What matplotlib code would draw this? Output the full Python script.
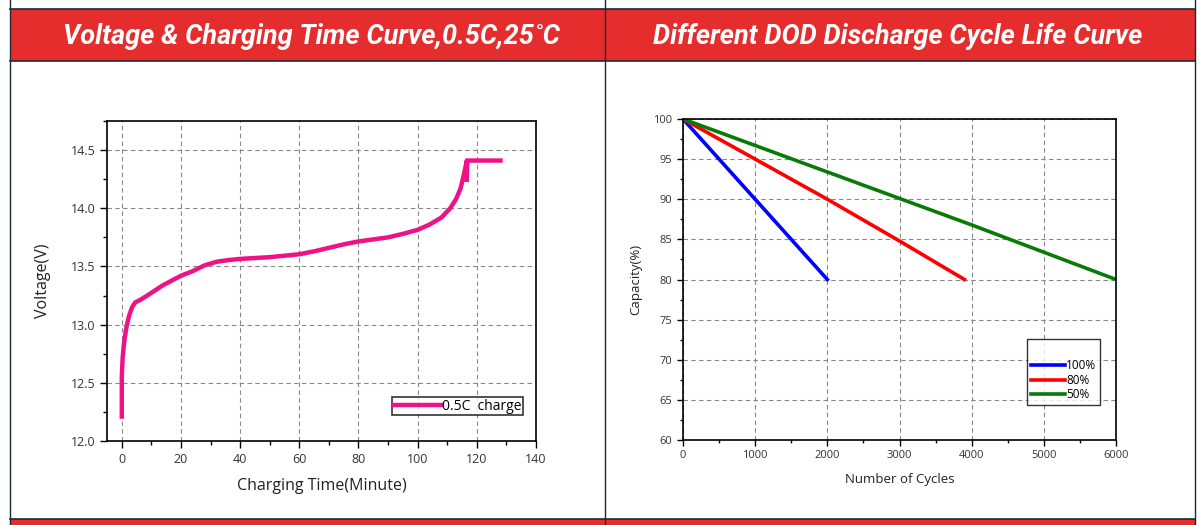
import matplotlib
matplotlib.use("Agg")
import matplotlib.pyplot as plt
from matplotlib.patches import Rectangle
from matplotlib.lines import Line2D
from matplotlib.ticker import MultipleLocator

# charging curve (minutes, volts)
charge_min = [0, 0, 0.3, 0.8, 1.5, 2.5, 3.5, 4.5, 6, 8, 11, 14, 17, 20, 24, 28, 32, 36,
              40, 50, 60, 65, 70, 75, 80, 90, 95, 100, 104, 108, 111, 113, 114.5,
              115.7, 116.3, 116.6, 116.6, 116.8, 122, 128]
charge_v = [12.21, 12.55, 12.72, 12.85, 12.97, 13.08, 13.15, 13.19, 13.21, 13.24, 13.29,
            13.34, 13.38, 13.42, 13.46, 13.51, 13.54, 13.555, 13.565, 13.58, 13.605,
            13.63, 13.66, 13.69, 13.715, 13.75, 13.78, 13.815, 13.86, 13.92, 14.0, 14.08,
            14.17, 14.30, 14.37, 14.41, 14.23, 14.41, 14.41, 14.41]

# cycle life per DOD
dod_labels = ["100%", "80%", "50%"]
cycles_100 = [0, 1000, 2000]
cap_100 = [100, 90, 80]
cycles_80 = [0, 1000, 2000, 3000, 3900]
cap_80 = [100, 95, 90, 84.8, 80]
cycles_50 = [0, 1000, 2000, 3000, 4000, 5000, 6000]
cap_50 = [100, 96.7, 93.4, 90.1, 86.8, 83.4, 80]

titles = ["Voltage & Charging Time Curve,0.5C,25˚C", "Different DOD Discharge Cycle Life Curve"]

W, H = 1201, 525
fig = plt.figure(figsize=(W / 100, H / 100), dpi=100)

def fx(x):
    return x / W

def fy(y):
    return 1 - y / H

red = "#E52D2D"
dark = "#1d2a36"

# header / footer bands
fig.add_artist(Rectangle((fx(10), fy(61)), fx(1195 - 10), (61 - 9) / H,
                         transform=fig.transFigure, facecolor=red, edgecolor="none"))
fig.add_artist(Rectangle((fx(10), 0), fx(1195 - 10), (525 - 519) / H,
                         transform=fig.transFigure, facecolor=red, edgecolor="none"))
for yy in [9, 61, 519]:
    fig.add_artist(Line2D([fx(10), fx(1195)], [fy(yy), fy(yy)], transform=fig.transFigure,
                          color=dark, lw=1.2))
for xx in [10, 605, 1195]:
    fig.add_artist(Line2D([fx(xx), fx(xx)], [0, 1], transform=fig.transFigure,
                          color=dark, lw=1.0))

tfont = dict(family=["Roboto", "DejaVu Sans"], weight="bold", style="italic", size=19.5,
             color="white", ha="center", va="center")
fig.text(fx(311), fy(36), titles[0], **tfont)
fig.text(fx(898), fy(36), titles[1], **tfont)

plt.rcParams["font.family"] = ["Open Sans", "DejaVu Sans"]
grid_kw = dict(color="#888888", ls=(0, (4, 3)), lw=0.8)

# left chart
ax1 = fig.add_axes([fx(107), fy(441), fx(536 - 107), (441 - 121) / H])
ax1.plot(charge_min, charge_v, color="#EE1187", lw=3.2, label="0.5C  charge",
         solid_joinstyle="miter")
ax1.set_xlim(-5, 140)
ax1.set_ylim(12.0, 14.75)
ax1.xaxis.set_major_locator(MultipleLocator(20))
ax1.xaxis.set_minor_locator(MultipleLocator(10))
ax1.yaxis.set_major_locator(MultipleLocator(0.5))
ax1.yaxis.set_minor_locator(MultipleLocator(0.25))
ax1.yaxis.set_major_formatter(plt.FormatStrFormatter("%.1f"))
ax1.grid(True, which="major", **grid_kw)
ax1.tick_params(which="major", direction="out", length=5, width=1, labelsize=9,
                labelcolor="#333333")
ax1.tick_params(which="minor", direction="out", length=3, width=1)
ax1.set_xlabel("Charging Time(Minute)", fontsize=11.5, color="#222222", labelpad=9)
ax1.set_ylabel("Voltage(V)", fontsize=11.5, color="#222222", labelpad=14)
for s in ax1.spines.values():
    s.set_linewidth(1.2)
leg1 = ax1.legend(loc="lower right", bbox_to_anchor=(0.970, 0.081), fontsize=10,
                  frameon=True, fancybox=False, edgecolor="black", handlelength=3.4,
                  handletextpad=0.1, borderpad=0.1, borderaxespad=0)
leg1.get_frame().set_linewidth(1.2)

# right chart
ax2 = fig.add_axes([fx(683), fy(440), fx(1116 - 683), (440 - 119) / H])
ax2.plot(cycles_100, cap_100, color="#0000FF", lw=2.6, label=dod_labels[0])
ax2.plot(cycles_80, cap_80, color="#FF0000", lw=2.6, label=dod_labels[1])
ax2.plot(cycles_50, cap_50, color="#087A08", lw=2.6, label=dod_labels[2])
ax2.set_xlim(0, 6000)
ax2.set_ylim(60, 100)
ax2.xaxis.set_major_locator(MultipleLocator(1000))
ax2.xaxis.set_minor_locator(MultipleLocator(500))
ax2.yaxis.set_major_locator(MultipleLocator(5))
ax2.yaxis.set_minor_locator(MultipleLocator(2.5))
ax2.grid(True, which="major", **grid_kw)
ax2.tick_params(which="major", direction="out", length=4, width=1, labelsize=8,
                labelcolor="#333333")
ax2.tick_params(which="minor", direction="out", length=2.5, width=1)
ax2.set_xlabel("Number of Cycles", fontsize=9.5, color="#222222", labelpad=8)
ax2.set_ylabel("Capacity(%)", fontsize=9.5, color="#222222", labelpad=8)
for s in ax2.spines.values():
    s.set_linewidth(1.2)
leg2 = ax2.legend(loc="lower right", bbox_to_anchor=(0.963, 0.109), fontsize=8.5,
                  frameon=True, fancybox=False, edgecolor="black", handlelength=2.9,
                  handletextpad=0.1, borderpad=0.3, labelspacing=0.15, borderaxespad=0,
                  title=" ", title_fontsize=10)
leg2.get_frame().set_linewidth(1.0)

fig.savefig("out.png", dpi=100)
